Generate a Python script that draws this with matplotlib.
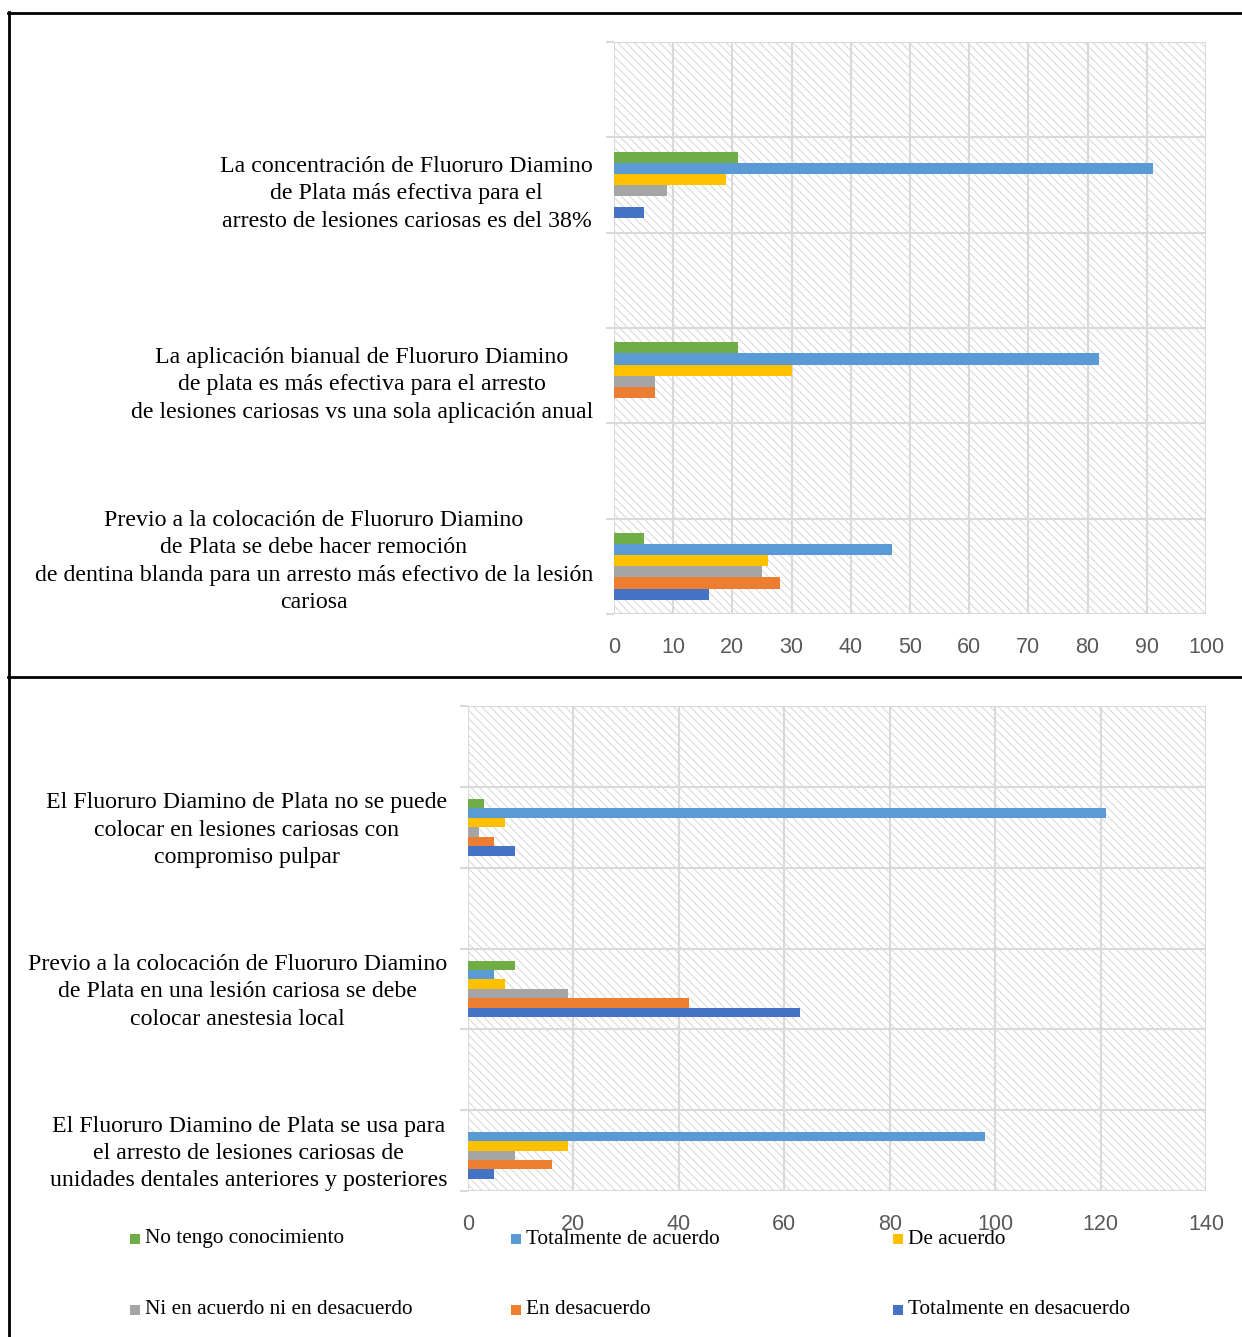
import matplotlib
matplotlib.use("Agg")
import matplotlib.pyplot as plt
from matplotlib.patches import Rectangle
from matplotlib.lines import Line2D
import numpy as np

plt.rcParams['hatch.linewidth'] = 0.7

# ---------------- data ----------------
series = ["No tengo conocimiento", "Totalmente de acuerdo", "De acuerdo",
          "Ni en acuerdo ni en desacuerdo", "En desacuerdo", "Totalmente en desacuerdo"]
colors = ["#70AD47", "#5B9BD5", "#FFC000", "#A5A5A5", "#ED7D31", "#4472C4"]

# categories listed top -> bottom (blank ones are empty rows)
top_categories = [
    "",
    "La concentración de Fluoruro Diamino\nde Plata más efectiva para el\narresto de lesiones cariosas es del 38%",
    "",
    "La aplicación bianual de Fluoruro Diamino\nde plata es más efectiva para el arresto\nde lesiones cariosas vs una sola aplicación anual",
    "",
    "Previo a la colocación de Fluoruro Diamino\nde Plata se debe hacer remoción\nde dentina blanda para un arresto más efectivo de la lesión\ncariosa",
]
# values per series (order of `series`), per category (top -> bottom)
top_values = {
    "No tengo conocimiento":          [0, 21, 0, 21, 0, 5],
    "Totalmente de acuerdo":          [0, 91, 0, 82, 0, 47],
    "De acuerdo":                     [0, 19, 0, 30, 0, 26],
    "Ni en acuerdo ni en desacuerdo": [0, 9, 0, 7, 0, 25],
    "En desacuerdo":                  [0, 0, 0, 7, 0, 28],
    "Totalmente en desacuerdo":       [0, 5, 0, 0, 0, 16],
}
top_xticks = [0, 10, 20, 30, 40, 50, 60, 70, 80, 90, 100]

bottom_categories = [
    "",
    "El Fluoruro Diamino de Plata no se puede\ncolocar en lesiones cariosas con\ncompromiso pulpar",
    "",
    "Previo a la colocación de Fluoruro Diamino\nde Plata en una lesión cariosa se debe\ncolocar anestesia local",
    "",
    "El Fluoruro Diamino de Plata se usa para\nel arresto de lesiones cariosas de\nunidades dentales anteriores y posteriores",
]
bottom_values = {
    "No tengo conocimiento":          [0, 3, 0, 9, 0, 0],
    "Totalmente de acuerdo":          [0, 121, 0, 5, 0, 98],
    "De acuerdo":                     [0, 7, 0, 7, 0, 19],
    "Ni en acuerdo ni en desacuerdo": [0, 2, 0, 19, 0, 9],
    "En desacuerdo":                  [0, 5, 0, 42, 0, 16],
    "Totalmente en desacuerdo":       [0, 9, 0, 63, 0, 5],
}
bottom_xticks = [0, 20, 40, 60, 80, 100, 120, 140]

# ---------------- figure ----------------
W, H = 1242, 1337
fig = plt.figure(figsize=(W / 100, H / 100), dpi=100)

serif = ["Liberation Serif", "DejaVu Serif"]
tickfont = ["Liberation Sans", "DejaVu Sans"]
grid_c = "#D9D9D9"


def draw_panel(rect, cats, values, xticks, label_nudge_px):
    ax = fig.add_axes(rect)
    n = len(cats)
    ns = len(series)
    group_w = 0.7
    bh = group_w / ns
    ypos = np.arange(n)  # 0 = top category
    for i, s in enumerate(series):
        offs = -group_w / 2 + bh * (i + 0.5)
        ax.barh(ypos + offs, values[s], height=bh, color=colors[i],
                edgecolor='none', zorder=3)
    ax.set_ylim(n - 0.5, -0.5)
    ax.set_xlim(xticks[0], xticks[-1])
    # hatched background
    bg = Rectangle((0, 0), 1, 1, transform=ax.transAxes, facecolor='white',
                   edgecolor='#D6D6D6', hatch='\\\\\\\\', linewidth=0, zorder=0)
    ax.add_patch(bg)
    ax.set_facecolor('white')
    # grid
    ax.set_xticks(xticks)
    ax.set_xticklabels([str(t) for t in xticks], fontfamily=tickfont,
                       fontsize=15.5, color="#595959")
    ax.tick_params(axis='x', length=0, pad=16.5)
    bounds = np.arange(n + 1) - 0.5
    ax.set_yticks(bounds)
    ax.set_yticklabels([])
    ax.tick_params(axis='y', length=6, width=1.5, color=grid_c)
    for t in xticks:
        ax.axvline(t, color=grid_c, lw=1.5, zorder=1)
    for b in bounds:
        ax.axhline(b, color=grid_c, lw=1.5, zorder=1)
    for sp in ax.spines.values():
        sp.set_visible(False)
    # category labels (right edge 21 px left of the axis)
    j = 0
    for k, c in enumerate(cats):
        if c:
            dy = label_nudge_px[j] * 0.72
            j += 1
            ax.annotate(c, xy=(xticks[0], k), xytext=(-21 * 0.72, -dy),
                        textcoords='offset points', ha='right', va='center',
                        multialignment='center', fontfamily=serif,
                        fontsize=17.2, color='black', linespacing=1.4,
                        zorder=4, annotation_clip=False)
    return ax


ax1 = draw_panel([614 / W, 1 - 614 / H, 592 / W, 572 / H],
                 top_categories, top_values, top_xticks, [9, 9, -5])
ax2 = draw_panel([468 / W, 1 - 1191 / H, 738 / W, 485 / H],
                 bottom_categories, bottom_values, bottom_xticks, [3, 3, 3])

# legend (3 columns x 2 rows) placed in figure pixels
col_x = [130, 511, 893]
row_y = [1239, 1310]
sq = 10
for i, s in enumerate(series):
    r, c = divmod(i, 3)
    x0 = col_x[c]
    y0 = row_y[r]
    fig.patches.append(Rectangle((x0 / W, 1 - (y0 + sq / 2) / H), sq / W, sq / H,
                                 transform=fig.transFigure, facecolor=colors[i],
                                 edgecolor='none'))
    fig.text((x0 + sq + 5) / W, 1 - y0 / H, s, ha='left', va='center',
             fontfamily=serif, fontsize=15.3, color='black')

# frame lines
lw = 2.0
fig.add_artist(Line2D([8 / W, 1241 / W], [1 - 13 / H, 1 - 13 / H], color='black', lw=lw,
                      transform=fig.transFigure))
fig.add_artist(Line2D([9 / W, 9 / W], [1 - 12 / H, 0], color='black', lw=lw,
                      transform=fig.transFigure))
fig.add_artist(Line2D([8 / W, 1242 / W], [1 - 677 / H, 1 - 677 / H], color='black', lw=lw,
                      transform=fig.transFigure))

fig.savefig("out.png", dpi=100, facecolor='white')
